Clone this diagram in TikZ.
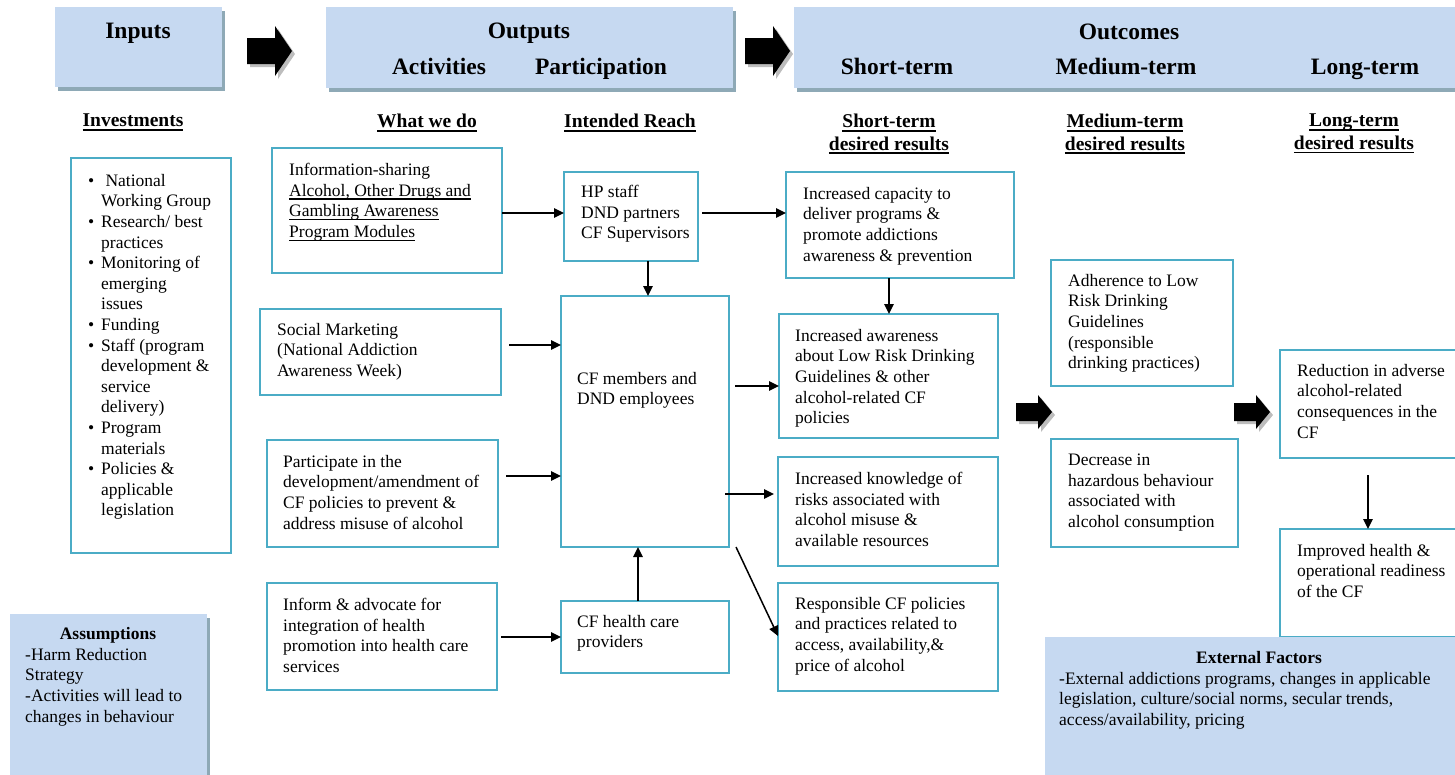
\documentclass[tikz,border=0pt]{standalone}
\usepackage{fontspec}
\setmainfont{Liberation Serif}
\usetikzlibrary{arrows.meta,shadows}

\definecolor{barfill}{HTML}{C6D9F1}
\definecolor{barshadow}{HTML}{8EA9B6}
\definecolor{boxline}{HTML}{4BACC6}
\definecolor{arrowshadow}{HTML}{BDBDBD}

\newcommand\bul{\makebox[13pt][l]{\textbullet}}
\newcommand\cont{\hspace*{13pt}}
% underline at a fixed depth below the baseline
\newsavebox\ulbox
\newcommand\uln[1]{\sbox\ulbox{#1}\rlap{\rule[-3.4pt]{\wd\ulbox}{1.1pt}}\usebox\ulbox}
\newcommand\ulb[1]{\sbox\ulbox{#1}\rlap{\rule[-4pt]{\wd\ulbox}{1.8pt}}\usebox\ulbox}

\tikzset{
  hbar/.style={fill=barfill, draw=none, inner sep=0pt, outer sep=0pt, anchor=north west,
    drop shadow={shadow xshift=2.5pt, shadow yshift=-4.3pt, fill=barshadow, opacity=1}},
  outbox/.style={draw=boxline, line width=2.8pt, fill=white, inner sep=0pt, outer sep=0pt, anchor=north west},
  body/.style={font=\fontsize{17.5}{20.6}\selectfont, align=left, inner sep=0pt, anchor=north west},
  bodytitle/.style={font=\fontsize{17.5}{20.6}\selectfont\bfseries, inner sep=0pt, anchor=north},
  headtext/.style={font=\fontsize{23.5}{26}\selectfont\bfseries, inner sep=0pt, anchor=base},
  sect/.style={font=\fontsize{19.5}{22.5}\selectfont\bfseries, align=center, inner sep=0pt, anchor=north},
  link/.style={line width=1.5pt, -{Triangle[length=10pt,width=9.5pt]}},
  pics/blockarrow/.style n args={4}{code={
    \fill[arrowshadow, shift={(3,3)}] (0,-#3) -- (#1,-#3) -- (#1,-#4) -- (#1+#2,0) -- (#1,#4) -- (#1,#3) -- (0,#3) -- cycle;
    \fill[black] (0,-#3) -- (#1,-#3) -- (#1,-#4) -- (#1+#2,0) -- (#1,#4) -- (#1,#3) -- (0,#3) -- cycle;
  }}
}

\begin{document}
\begin{tikzpicture}[x=1pt,y=-1pt]
\useasboundingbox (0,0) rectangle (1455,774);
\clip (0,0) rectangle (1455,774);

% ---------- header bars ----------
\node[hbar, minimum width=167, minimum height=80] (inputs) at (55,7) {};
\node[hbar, minimum width=407, minimum height=81] (outputs) at (326,7) {};
\node[hbar, minimum width=680, minimum height=81] (outcomes) at (794,7) {};

\node[headtext] (t-inputs) at (138,38) {Inputs};
\node[headtext] (t-outputs) at (529,38) {Outputs};
\node[headtext] (t-outcomes) at (1129,39) {Outcomes};
\node[headtext] (t-act) at (439,74) {Activities};
\node[headtext] (t-part) at (601,74) {Participation};
\node[headtext] (t-short) at (897,74) {Short-term};
\node[headtext] (t-med) at (1126,74) {Medium-term};
\node[headtext] (t-long) at (1365,74) {Long-term};

\pic at (247,51) {blockarrow={28}{17}{13}{25}};
\pic at (745,51) {blockarrow={28}{17}{13}{25}};
\pic at (1016,412) {blockarrow={22}{14}{9}{17}};
\pic at (1234,412) {blockarrow={22}{14}{9}{17}};

% ---------- column labels ----------
\node[sect] (l-inv) at (133,114) {\ulb{Investments}};
\node[sect] (l-what) at (427,114) {\ulb{What we do}};
\node[sect] (l-reach) at (630,114) {\ulb{Intended Reach}};
\node[sect] (l-short) at (889,114) {\ulb{Short-term}\\\ulb{desired results}};
\node[sect] (l-med) at (1125,114) {\ulb{Medium-term}\\\ulb{desired results}};
\node[sect] (l-long) at (1354,114) {\ulb{Long-term}\\\ulb{desired results}};

% ---------- boxes ----------
\node[outbox, minimum width=160, minimum height=395] (inv) at (71,158) {};
\node[outbox, minimum width=230, minimum height=125] (info) at (272,148) {};
\node[outbox, minimum width=134, minimum height=89] (hp) at (564,172) {};
\node[outbox, minimum width=168, minimum height=251] (cfm) at (561,296) {};
\node[outbox, minimum width=168, minimum height=72] (cfh) at (561,601) {};
\node[outbox, minimum width=241, minimum height=86] (social) at (260,309) {};
\node[outbox, minimum width=231, minimum height=107] (part) at (267,440) {};
\node[outbox, minimum width=230, minimum height=107] (inform) at (267,583) {};
\node[outbox, minimum width=228, minimum height=106] (cap) at (786,172) {};
\node[outbox, minimum width=219, minimum height=124] (awa) at (779,314) {};
\node[outbox, minimum width=220, minimum height=109] (know) at (778,457) {};
\node[outbox, minimum width=220, minimum height=108] (resp) at (778,583) {};
\node[outbox, minimum width=182, minimum height=126] (adh) at (1051,260) {};
\node[outbox, minimum width=187, minimum height=108] (dec) at (1051,439) {};
\node[outbox, minimum width=200, minimum height=108] (red) at (1280,350) {};
\node[outbox, minimum width=200, minimum height=108] (imp) at (1280,529) {};

% ---------- box texts ----------
\node[body] (inv-t) at (88,174) {\bul\ National\\\cont Working Group\\\bul Research/ best\\\cont practices\\\bul Monitoring of\\\cont emerging\\\cont issues\\\bul Funding\\\bul Staff (program\\\cont development \&\\\cont service\\\cont delivery)\\\bul Program\\\cont materials\\\bul Policies \&\\\cont applicable\\\cont legislation};
\node[body] (info-t) at (289,163) {Information-sharing\\\uln{Alcohol, Other Drugs and}\\\uln{Gambling Awareness}\\\uln{Program Modules}};
\node[body] (hp-t) at (581,185) {HP staff\\DND partners\\CF Supervisors};
\node[body] (cfm-t) at (577,372) {CF members and\\DND employees};
\node[body] (cfh-t) at (577,615) {CF health care\\providers};
\node[body] (social-t) at (277,323) {Social Marketing\\(National Addiction\\Awareness Week)};
\node[body] (part-t) at (283,455) {Participate in the\\development/amendment of\\CF policies to prevent \&\\address misuse of alcohol};
\node[body] (inform-t) at (283,598) {Inform \& advocate for\\integration of health\\promotion into health care\\services};
\node[body] (cap-t) at (803,187) {Increased capacity to\\deliver programs \&\\promote addictions\\awareness \& prevention};
\node[body] (awa-t) at (795,329) {Increased awareness\\about Low Risk Drinking\\Guidelines \& other\\alcohol-related CF\\policies};
\node[body] (know-t) at (795,472) {Increased knowledge of\\risks associated with\\alcohol misuse \&\\available resources};
\node[body] (resp-t) at (795,597) {Responsible CF policies\\and practices related to\\access, availability,\&\\price of alcohol};
\node[body] (adh-t) at (1068,274) {Adherence to Low\\Risk Drinking\\Guidelines\\(responsible\\drinking practices)};
\node[body] (dec-t) at (1068,454) {Decrease in\\hazardous behaviour\\associated with\\alcohol consumption};
\node[body] (red-t) at (1297,364) {Reduction in adverse\\alcohol-related\\consequences in the\\CF};
\node[body] (imp-t) at (1297,544) {Improved health \&\\operational readiness\\of the CF};

% ---------- assumptions and external factors ----------
\node[hbar, minimum width=197, minimum height=175] (assume) at (10,614) {};
\node[bodytitle] (assume-h) at (108,627) {Assumptions};
\node[body] (assume-t) at (25,648) {-Harm Reduction\\Strategy\\-Activities will lead to\\changes in behaviour};
\node[hbar, minimum width=430, minimum height=150] (ext) at (1045,637) {};
\node[bodytitle] (ext-h) at (1259,651) {External Factors};
\node[body] (ext-t) at (1059,672) {-External addictions programs, changes in applicable\\legislation, culture/social norms, secular trends,\\access/availability, pricing};

% ---------- connectors ----------
\draw[link] (info.east |- 0,213) -- (hp.west |- 0,213);
\draw[link] (hp.south -| 648,0) -- (cfm.north -| 648,0);
\draw[link] ([xshift=8pt]social.east |- 0,345) -- (cfm.west |- 0,345);
\draw[link] ([xshift=8pt]part.east |- 0,476) -- (cfm.west |- 0,476);
\draw[link] ([xshift=4pt]inform.east |- 0,637) -- (cfh.west |- 0,637);
\draw[link] (cfh.north -| 638,0) -- (cfm.south -| 638,0);
\draw[link] ([xshift=4pt]hp.east |- 0,213) -- (cap.west |- 0,213);
\draw[link] (cap.south -| 889,0) -- (awa.north -| 889,0);
\draw[link] ([xshift=6pt]cfm.east |- 0,386) -- (awa.west |- 0,386);
\draw[link] ([xshift=-4pt]cfm.east |- 0,494) -- ([xshift=-4pt]know.west |- 0,494);
\draw[link] ([xshift=7pt]cfm.south east) -- (resp.west |- 0,636);
\draw[link] ([yshift=-17pt]red.south -| 1368,0) -- (imp.north -| 1368,0);

\end{tikzpicture}
\end{document}
